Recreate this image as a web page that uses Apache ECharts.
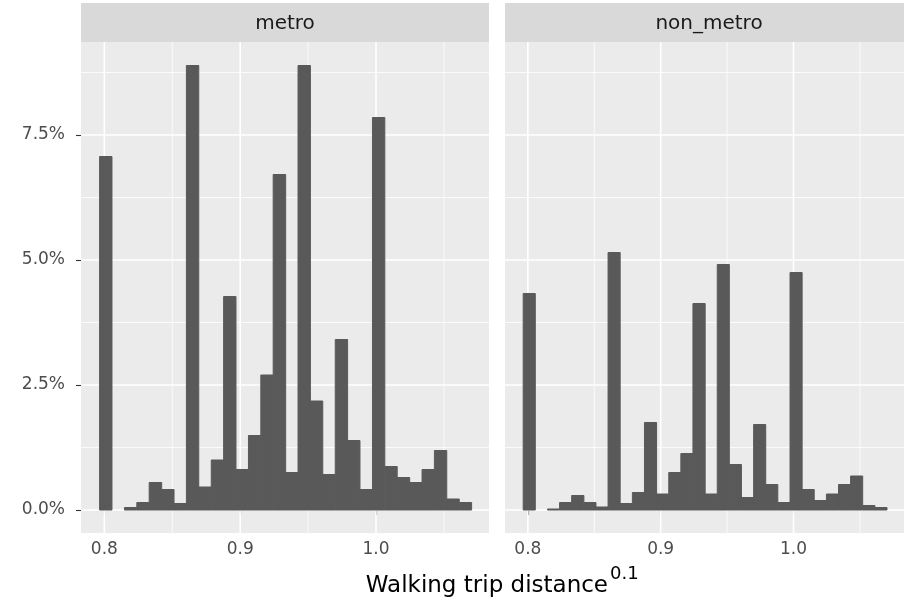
<!DOCTYPE html>
<html>
<head>
<meta charset="utf-8">
<title>Walking trip distance histogram</title>
<script src="https://cdn.jsdelivr.net/npm/echarts@6/dist/echarts.min.js"></script>
<style>
  html, body { margin: 0; padding: 0; background: #ffffff; }
  #chart { width: 904px; height: 605px; }
</style>
</head>
<body>
<div id="chart"></div>
<script>
// Facet panels
const facets = ['metro', 'non_metro'];

// Histogram bin edges (30 bins) on the transformed distance scale
const binEdges = [0.7965, 0.8056, 0.8148, 0.8239, 0.8330, 0.8422, 0.8513, 0.8604,
  0.8695, 0.8787, 0.8878, 0.8969, 0.9061, 0.9152, 0.9243, 0.9335, 0.9426, 0.9517,
  0.9608, 0.9700, 0.9791, 0.9882, 0.9974, 1.0065, 1.0156, 1.0248, 1.0339, 1.0430,
  1.0521, 1.0613, 1.0704];

// Share of trips per bin (%)
const metroPct = [7.07, 0, 0.05, 0.15, 0.55, 0.41, 0.13, 8.89, 0.46, 1.00,
  4.27, 0.81, 1.49, 2.70, 6.71, 0.75, 8.89, 2.18, 0.71, 3.41,
  1.39, 0.41, 7.85, 0.87, 0.65, 0.55, 0.81, 1.19, 0.22, 0.15];
const nonMetroPct = [4.33, 0, 0.02, 0.15, 0.29, 0.15, 0.06, 5.15, 0.13, 0.35,
  1.75, 0.32, 0.75, 1.13, 4.13, 0.32, 4.91, 0.91, 0.25, 1.71,
  0.51, 0.15, 4.75, 0.41, 0.19, 0.32, 0.51, 0.68, 0.09, 0.05];

// Axis breaks
const xTicks = [0.8, 0.9, 1.0];
const xMinorTicks = [0.85, 0.95, 1.05];
const yTicks = [0, 2.5, 5.0, 7.5];
const yMinorTicks = [1.25, 3.75, 6.25, 8.75];

const X_MIN = 0.7828, X_MAX = 1.0832;
const Y_MIN = -0.46, Y_MAX = 9.36;
const FONT = 'DejaVu Sans';
const BAR_FILL = '#595959';

const panels = [
  { left: 81, name: facets[0], values: metroPct },
  { left: 505, name: facets[1], values: nonMetroPct }
];
const PANEL_TOP = 42, PANEL_W = 408, PANEL_H = 491;

function binRows(values) {
  return values.map((v, i) => [binEdges[i], binEdges[i + 1], v]);
}

// Grid line rows: [x, y, isMajor, isHorizontal]
function gridRows() {
  const rows = [];
  xMinorTicks.forEach(v => rows.push([v, 0, 0, 0]));
  yMinorTicks.forEach(v => rows.push([X_MIN, v, 0, 1]));
  xTicks.forEach(v => rows.push([v, 0, 1, 0]));
  yTicks.forEach(v => rows.push([X_MIN, v, 1, 1]));
  return rows;
}

function renderGridLine(params, api) {
  const cs = params.coordSys;
  const p = api.coord([api.value(0), api.value(1)]);
  const major = api.value(2) === 1;
  const horizontal = api.value(3) === 1;
  const shape = horizontal
    ? { x1: cs.x, y1: p[1], x2: cs.x + cs.width, y2: p[1] }
    : { x1: p[0], y1: cs.y, x2: p[0], y2: cs.y + cs.height };
  return {
    type: 'line',
    shape: shape,
    style: { stroke: '#FFFFFF', lineWidth: major ? 1.6 : 0.8 },
    silent: true
  };
}

function renderBin(params, api) {
  const v = api.value(2);
  if (!v) return null;
  const p0 = api.coord([api.value(0), 0]);
  const p1 = api.coord([api.value(1), v]);
  return {
    type: 'rect',
    shape: { x: p0[0], y: p1[1], width: p1[0] - p0[0], height: p0[1] - p1[1] },
    // same-colour outline closes antialiasing seams between adjacent bins
    style: { fill: BAR_FILL, stroke: BAR_FILL, lineWidth: 1 }
  };
}

const grids = [], xAxes = [], yAxes = [], series = [], graphics = [];

panels.forEach((pn, i) => {
  grids.push({
    left: pn.left, top: PANEL_TOP, width: PANEL_W, height: PANEL_H,
    show: true, backgroundColor: '#EBEBEB', borderWidth: 0
  });
  xAxes.push({
    type: 'value', gridIndex: i, min: X_MIN, max: X_MAX,
    axisLine: { show: false },
    splitLine: { show: false },
    axisTick: { show: true, customValues: xTicks, length: 5,
      lineStyle: { color: '#333333', width: 1.1 } },
    axisLabel: { show: true, customValues: xTicks, margin: 8,
      fontFamily: FONT, fontSize: 17, color: '#4D4D4D',
      formatter: v => Number(v).toFixed(1) }
  });
  yAxes.push({
    type: 'value', gridIndex: i, min: Y_MIN, max: Y_MAX,
    axisLine: { show: false },
    splitLine: { show: false },
    axisTick: { show: i === 0, customValues: yTicks, length: 5,
      lineStyle: { color: '#333333', width: 1.1 } },
    axisLabel: { show: i === 0, customValues: yTicks, margin: 16,
      fontFamily: FONT, fontSize: 17, color: '#4D4D4D',
      formatter: v => Number(v).toFixed(1) + '%' }
  });
  series.push({
    type: 'custom', xAxisIndex: i, yAxisIndex: i, z: 1, clip: true,
    renderItem: renderGridLine, encode: { x: 0, y: 1 },
    data: gridRows(), silent: true
  });
  series.push({
    type: 'custom', name: pn.name, xAxisIndex: i, yAxisIndex: i, z: 2, clip: true,
    renderItem: renderBin, encode: { x: [0, 1], y: 2 },
    data: binRows(pn.values)
  });
  // facet strip
  graphics.push({
    type: 'rect', left: pn.left, top: 3, silent: true,
    shape: { width: PANEL_W, height: 39 },
    style: { fill: '#D9D9D9' }
  });
  graphics.push({
    type: 'text', silent: true,
    x: pn.left + PANEL_W / 2, y: 23.5,
    style: { text: pn.name, font: '20px "' + FONT + '"', fill: '#1A1A1A',
      align: 'center', verticalAlign: 'middle' }
  });
});

// x-axis title with superscript exponent
graphics.push({
  type: 'text', silent: true, x: 608, y: 586,
  style: { text: 'Walking trip distance', font: '23px "' + FONT + '"', fill: '#000000',
    align: 'right', verticalAlign: 'middle' }
});
graphics.push({
  type: 'text', silent: true, x: 610, y: 574,
  style: { text: '0.1', font: '18px "' + FONT + '"', fill: '#000000',
    align: 'left', verticalAlign: 'middle' }
});

const chart = echarts.init(document.getElementById('chart'), null, { renderer: 'canvas' });
chart.setOption({
  animation: false,
  backgroundColor: '#FFFFFF',
  grid: grids,
  xAxis: xAxes,
  yAxis: yAxes,
  series: series,
  graphic: graphics
});
</script>
</body>
</html>
